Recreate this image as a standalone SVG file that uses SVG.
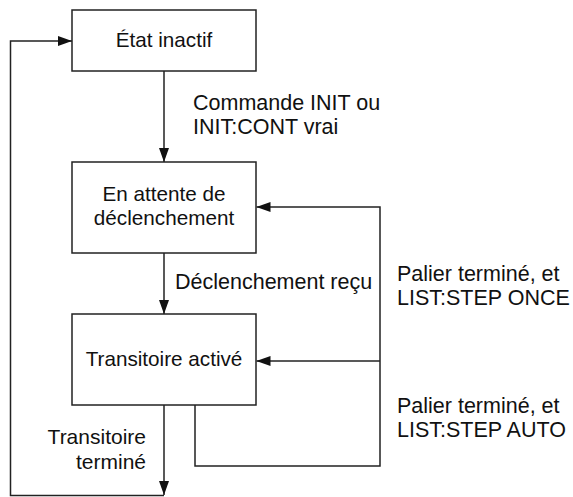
<svg xmlns="http://www.w3.org/2000/svg" width="573" height="497" viewBox="0 0 573 497">
<style>
.box{fill:#fff;stroke:#222;stroke-width:1.5}
.ln{fill:none;stroke:#222;stroke-width:1.5}
text{font-family:"Liberation Sans",Arial,sans-serif;font-size:21.5px;fill:#111}
.n{font-size:20.7px}
.c{text-anchor:middle}
.r{text-anchor:end}
</style>
<defs>
<marker id="ah" viewBox="0 0 14 10" refX="14" refY="5" markerWidth="14" markerHeight="10" markerUnits="userSpaceOnUse" orient="auto">
<path d="M0,0 L14,5 L0,10 Z" fill="#111"/>
</marker>
</defs>
<g id="connectors">
<path class="ln" d="M164,71 V162" marker-end="url(#ah)"/>
<path class="ln" d="M164,253 V314" marker-end="url(#ah)"/>
<path class="ln" d="M164,405 V495" marker-end="url(#ah)"/>
<path class="ln" d="M164,495.5 H10.5 V41 H72" marker-end="url(#ah)"/>
<path class="ln" d="M195,405 V466 H380 V207 H256.5" marker-end="url(#ah)"/>
<path class="ln" d="M380,361 H256.5" marker-end="url(#ah)"/>
<text x="193" y="110">Commande INIT ou</text>
<text x="193" y="134">INIT:CONT vrai</text>
<text x="175" y="289">Déclenchement reçu</text>
<text x="397" y="281">Palier terminé, et</text>
<text x="397" y="305">LIST:STEP ONCE</text>
<text x="397" y="413">Palier terminé, et</text>
<text x="397" y="437">LIST:STEP AUTO</text>
<text class="r" x="146" y="444" style="font-size:21px">Transitoire</text>
<text class="r" x="146" y="469" style="font-size:21px">terminé</text>
</g>
<g id="etat-inactif">
<rect class="box" x="72" y="10" width="184" height="61"/>
<text class="c n" x="164" y="47">État inactif</text>
</g>
<g id="en-attente">
<rect class="box" x="72" y="162" width="184" height="91"/>
<text class="c n" x="164" y="201">En attente de</text>
<text class="c n" x="164" y="225">déclenchement</text>
</g>
<g id="transitoire-active">
<rect class="box" x="72" y="314" width="184" height="91"/>
<text class="c n" x="164" y="366">Transitoire activé</text>
</g>
</svg>
